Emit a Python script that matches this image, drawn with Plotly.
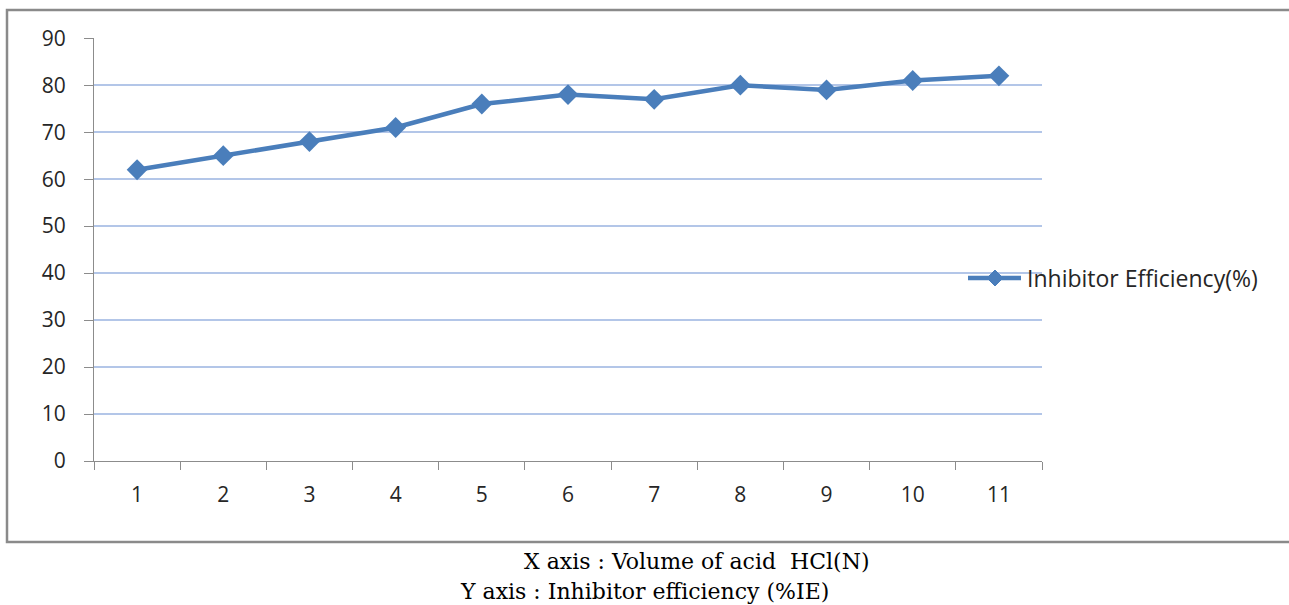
import plotly.graph_objects as go

# Inhibitor efficiency (%IE) against volume of acid HCl (N)
categories = ["1", "2", "3", "4", "5", "6", "7", "8", "9", "10", "11"]
efficiency = [62, 65, 68, 71, 76, 78, 77, 80, 79, 81, 82]
series_name = "Inhibitor Efficiency(%)"
y_ticks = [0, 10, 20, 30, 40, 50, 60, 70, 80, 90]
x_caption = "X axis : Volume of acid  HCl(N)"
y_caption = "Y axis : Inhibitor efficiency (%IE)"

W, H = 1289, 605
ML, MR, MT, MB = 94, 247, 38, 144
PW, PH = W - ML - MR, H - MT - MB

LINE_COLOR = "#4a7ebb"
GRID_COLOR = "#b3c6e8"
AXIS_COLOR = "#8c8c8c"
SANS = "'Open Sans', 'Noto Sans', sans-serif"
SERIF = "'DejaVu Serif', 'Liberation Serif', serif"


def px(x):
    return (x - ML) / PW


def py(y):
    return (H - MB - y) / PH


fig = go.Figure()
fig.add_trace(go.Scatter(
    x=categories, y=efficiency, mode="lines+markers", name=series_name,
    line=dict(color=LINE_COLOR, width=4.5),
    marker=dict(symbol="diamond", size=16, color=LINE_COLOR),
    showlegend=False, cliponaxis=False,
))

# legend entry (line sample with diamond, label to the right)
leg_y = 278
shapes = [
    dict(type="rect", xref="paper", yref="paper",
         x0=px(7), x1=px(1300), y0=py(542), y1=py(10),
         line=dict(color="#8a8a8a", width=2.5), fillcolor="rgba(0,0,0,0)"),
    dict(type="line", xref="paper", yref="paper",
         x0=px(968), x1=px(1021), y0=py(leg_y), y1=py(leg_y),
         line=dict(color=LINE_COLOR, width=4.5)),
]
cx, r = 995, 8
d = (f"M {px(cx - r)} {py(leg_y)} L {px(cx)} {py(leg_y - r)} "
     f"L {px(cx + r)} {py(leg_y)} L {px(cx)} {py(leg_y + r)} Z")
shapes.append(dict(type="path", xref="paper", yref="paper", path=d,
                   fillcolor=LINE_COLOR, line=dict(color=LINE_COLOR, width=1)))

annotations = [
    dict(text=series_name, xref="paper", yref="paper", x=px(1025), y=py(leg_y),
         xanchor="left", yanchor="middle", showarrow=False,
         font=dict(family=SANS, size=23, color="#262626")),
    dict(text=x_caption, xref="paper", yref="paper", x=px(697), y=py(561),
         xanchor="center", yanchor="middle", showarrow=False,
         font=dict(family=SERIF, size=22, color="#000000")),
    dict(text=y_caption, xref="paper", yref="paper", x=px(458), y=py(591),
         xanchor="left", yanchor="middle", showarrow=False,
         font=dict(family=SERIF, size=22, color="#000000")),
]

fig.update_layout(
    width=W, height=H,
    margin=dict(l=ML, r=MR, t=MT, b=MB, pad=0),
    paper_bgcolor="white", plot_bgcolor="white",
    shapes=shapes, annotations=annotations,
    xaxis=dict(
        type="category", range=[-0.5, 10.5], tickson="boundaries",
        ticks="outside", ticklen=8,
        tickcolor=AXIS_COLOR, tickwidth=1.2, showgrid=False,
        showline=True, linecolor=AXIS_COLOR, linewidth=1.2,
        tickfont=dict(family=SANS, size=21, color="#262626"),
        ticklabelstandoff=15, zeroline=False,
    ),
    yaxis=dict(
        range=[0, 90.05], tickvals=y_ticks, ticks="outside", ticklen=9,
        tickcolor=AXIS_COLOR, tickwidth=1.2,
        showgrid=True, gridcolor=GRID_COLOR, gridwidth=1.5,
        showline=True, linecolor=AXIS_COLOR, linewidth=1.2, zeroline=False,
        tickfont=dict(family=SANS, size=21, color="#262626"),
        ticklabelstandoff=14,
    ),
)

fig.write_html("out.html")
